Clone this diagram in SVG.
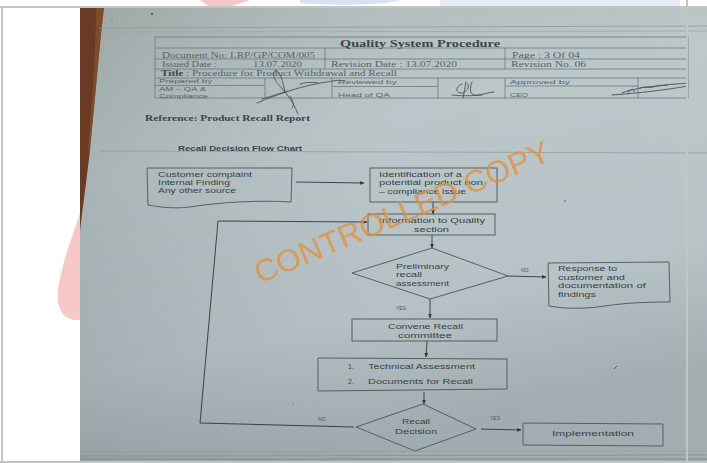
<svg xmlns="http://www.w3.org/2000/svg" width="707" height="463" viewBox="0 0 707 463">
<defs>
<linearGradient id="paper" x1="0" y1="0" x2="0.3" y2="1">
<stop offset="0" stop-color="#aab6b3"/>
<stop offset="0.35" stop-color="#b7c3c6"/>
<stop offset="0.75" stop-color="#b2bec2"/>
<stop offset="1" stop-color="#9ba7ab"/>
</linearGradient>
<linearGradient id="shade" x1="0" y1="0" x2="1" y2="0">
<stop offset="0" stop-color="#000" stop-opacity="0.08"/>
<stop offset="0.5" stop-color="#fff" stop-opacity="0.05"/>
<stop offset="1" stop-color="#fff" stop-opacity="0.08"/>
</linearGradient>
<marker id="arr" viewBox="0 0 10 10" refX="9" refY="5" markerWidth="5" markerHeight="5" orient="auto">
<path d="M0,1 L10,5 L0,9 Z" fill="#2f3538"/>
</marker>
<style>
.tb{fill:none;stroke:#6d7a7e;stroke-width:0.8}
.st{font-family:"Liberation Serif",serif;font-size:8px;fill:#56626a}
.sb{font-family:"Liberation Serif",serif;font-weight:bold;fill:#3c4549}
.ss{font-family:"Liberation Sans",sans-serif;font-size:6px;fill:#56626a}
.ft{font-family:"Liberation Sans",sans-serif;font-size:7px;fill:#3a4245}
.lb{font-family:"Liberation Sans",sans-serif;font-size:5px;fill:#4a5458}
.sh{fill:none;stroke:#4c5558;stroke-width:0.9}
.cn{fill:none;stroke:#2f3538;stroke-width:0.9}
.sig{fill:none;stroke:#4a5358;stroke-width:0.9;stroke-linecap:round}
</style>
</defs>
<rect width="707" height="463" fill="#ffffff"/>
<!-- faint logo fragments above frame -->
<path d="M200,0 L250,0 L232,6 L208,6 Z" fill="#f4c8c8"/>
<path d="M300,0 L400,0 C390,5 330,6 300,3 Z" fill="#d8e2f0"/>
<path d="M440,0 L680,0 L680,6 L440,6 Z" fill="#e6ecf6"/>
<!-- pink shape at left -->
<path d="M80,213 C72,238 62,262 58,290 C56,308 62,318 74,320 L80,320 Z" fill="#f6c8c8"/>
<!-- photo -->
<rect x="80" y="8" width="627" height="455" fill="url(#paper)"/>
<rect x="80" y="8" width="627" height="455" fill="url(#shade)"/>
<path d="M80,8 L104,8 C100,40 96,90 90,150 C86,185 83,205 80,232 Z" fill="#6a3a22"/>
<path d="M96,8 L104,8 C100,40 96,90 90,150 L88,150 C93,90 96,40 96,8 Z" fill="#8a5636" opacity="0.6"/>
<!-- header lines -->
<line x1="100" y1="28" x2="707" y2="26" stroke="#8d999c" stroke-width="0.8"/>
<line x1="100" y1="32" x2="707" y2="31" stroke="#99a5a8" stroke-width="0.7"/>
<circle cx="152" cy="14" r="0.9" fill="#333"/>
<circle cx="112" cy="19" r="0.7" fill="#666"/>
<!-- table -->
<g id="header-table">
<rect class="tb" x="155" y="37" width="533" height="61"/>
<line class="tb" x1="155" y1="48" x2="688" y2="48"/>
<line class="tb" x1="155" y1="59" x2="688" y2="59"/>
<line class="tb" x1="155" y1="69" x2="688" y2="69"/>
<line class="tb" x1="155" y1="78" x2="688" y2="78"/>
<line class="tb" x1="325" y1="48" x2="325" y2="69"/>
<line class="tb" x1="505" y1="48" x2="505" y2="69"/>
<line class="tb" x1="265" y1="78" x2="265" y2="98"/>
<line class="tb" x1="332" y1="78" x2="332" y2="98"/>
<line class="tb" x1="438" y1="78" x2="438" y2="98"/>
<line class="tb" x1="505" y1="78" x2="505" y2="98"/>
<line class="tb" x1="638" y1="78" x2="638" y2="98"/>
<line class="tb" x1="155" y1="85.5" x2="265" y2="85.5"/>
<line class="tb" x1="332" y1="86.5" x2="438" y2="86.5"/>
<line class="tb" x1="505" y1="86" x2="638" y2="86"/>
<text class="sb" x="340" y="46.5" font-size="10.5" textLength="160" lengthAdjust="spacingAndGlyphs">Quality System Procedure</text>
<text class="st" x="162" y="57.5" textLength="153" lengthAdjust="spacingAndGlyphs">Document No: LRP/GP/COM/005</text>
<text class="st" x="512" y="57.5" textLength="68" lengthAdjust="spacingAndGlyphs">Page : 3   Of  04</text>
<text class="st" x="162" y="67" textLength="55" lengthAdjust="spacingAndGlyphs">Issued Date :</text>
<text class="st" x="253" y="67" textLength="49" lengthAdjust="spacingAndGlyphs">13.07.2020</text>
<text class="st" x="331" y="67" textLength="126" lengthAdjust="spacingAndGlyphs">Revision Date :  13.07.2020</text>
<text class="st" x="511" y="67" textLength="75" lengthAdjust="spacingAndGlyphs">Revision No. 06</text>
<text class="st" x="161" y="76" textLength="236" lengthAdjust="spacingAndGlyphs"><tspan font-weight="bold" fill="#3c4549">Title</tspan> : Procedure for Product Withdrawal and Recall</text>
<text class="ss" x="159" y="83.4" textLength="53" lengthAdjust="spacingAndGlyphs">Prepared by</text>
<text class="ss" x="159" y="90.5" textLength="47" lengthAdjust="spacingAndGlyphs">AM – QA &amp;</text>
<text class="ss" x="159" y="97.6" textLength="49" lengthAdjust="spacingAndGlyphs">Compliance</text>
<text class="ss" x="338" y="84.3" textLength="59" lengthAdjust="spacingAndGlyphs">Reviewed by</text>
<text class="ss" x="338" y="96.5" textLength="52" lengthAdjust="spacingAndGlyphs">Head of QA</text>
<text class="ss" x="510" y="84" textLength="60" lengthAdjust="spacingAndGlyphs">Approved by</text>
<text class="ss" x="510" y="96.5" textLength="18" lengthAdjust="spacingAndGlyphs">CEO</text>
<!-- signatures -->
<path class="sig" d="M275,71 C270,76 278,84 285,92 C290,98 295,106 298,114 M285,92 C283,84 282,76 278,72 C276,70 274,70 275,71 M257,103 C268,98 280,94 292,90 C305,86 318,83 333,81 C338,80 342,80 345,81 M262,99 C272,96 282,93 287,91 M300,84 C306,82 312,82 318,83 M290,96 C293,102 295,104 292,108"/>
<path class="sig" d="M462,84 C456,86 455,92 460,93 C465,94 470,88 468,84 M466,82 L463,98 M472,82 C470,88 469,93 474,95 C480,96 488,92 494,92 M452,95 C460,96 470,96 482,95"/>
<path class="sig" d="M622,93 C628,90 632,90 636,89 C645,86 655,87 665,85 C672,84 680,84 688,83 M628,93 C630,88 636,89 634,92 M640,88 C646,86 650,89 656,86 C660,85 664,86 668,85 M612,95 C640,93 665,90 688,86"/>
</g>
<!-- reference & chart title -->
<text class="sb" x="145" y="121" font-size="9" textLength="165" lengthAdjust="spacingAndGlyphs">Reference:  Product Recall Report</text>
<line x1="100" y1="151" x2="707" y2="153" stroke="#8e9a9e" stroke-width="0.7"/>
<text x="178" y="151" font-family="'Liberation Sans',sans-serif" font-size="7" font-weight="bold" fill="#3c4549" textLength="124" lengthAdjust="spacingAndGlyphs">Recall Decision Flow Chart</text>
<circle cx="565" cy="201" r="0.8" fill="#555"/>
<path d="M614,369 L617,366" stroke="#444" stroke-width="0.8"/>
<circle cx="293" cy="404" r="0.6" fill="#666"/>
<!-- connectors -->
<g id="connectors">
<line class="cn" x1="296" y1="182" x2="364" y2="183" marker-end="url(#arr)"/>
<line class="cn" x1="433" y1="202" x2="433" y2="214" marker-end="url(#arr)"/>
<line class="cn" x1="432" y1="235" x2="432" y2="248" marker-end="url(#arr)"/>
<line class="cn" x1="508" y1="276" x2="546" y2="277" marker-end="url(#arr)"/>
<line class="cn" x1="430" y1="299" x2="430" y2="318" marker-end="url(#arr)"/>
<line class="cn" x1="427" y1="341" x2="426" y2="357" marker-end="url(#arr)"/>
<line class="cn" x1="424" y1="392" x2="424" y2="404" marker-end="url(#arr)"/>
<line class="cn" x1="481" y1="429" x2="521" y2="430" marker-end="url(#arr)"/>
<polyline class="cn" points="354,427 200,423 218,221 367,222" marker-end="url(#arr)"/>
<text class="lb" x="521" y="272">NO</text>
<text class="lb" x="396" y="310">YES</text>
<text class="lb" x="318" y="421">NO</text>
<text class="lb" x="490" y="420">YES</text>
</g>
<!-- nodes -->
<g id="sources">
<path class="sh" d="M147,168 L292,168 L291,202 C262,200 220,202 190,207 C172,209 160,207 148,205 Z"/>
<text class="ft" x="158" y="176.5" textLength="94" lengthAdjust="spacingAndGlyphs">Customer complaint</text>
<text class="ft" x="158" y="184.5" textLength="72" lengthAdjust="spacingAndGlyphs">Internal Finding</text>
<text class="ft" x="158" y="192.5" textLength="78" lengthAdjust="spacingAndGlyphs">Any other source</text>
</g>
<g id="identification">
<rect class="sh" x="370" y="168" width="127" height="34"/>
<text class="ft" x="379" y="176.5" textLength="83" lengthAdjust="spacingAndGlyphs">Identification of a</text>
<text class="ft" x="379" y="185" textLength="104" lengthAdjust="spacingAndGlyphs">potential product non</text>
<text class="ft" x="379" y="193.5" textLength="87" lengthAdjust="spacingAndGlyphs">– compliance issue</text>
</g>
<g id="information">
<rect class="sh" x="368" y="214" width="127" height="21"/>
<text class="ft" x="379" y="223.3" textLength="106" lengthAdjust="spacingAndGlyphs">Information to Quality</text>
<text class="ft" x="414" y="231.8" textLength="35" lengthAdjust="spacingAndGlyphs">section</text>
</g>
<g id="preliminary">
<polygon class="sh" points="432,248 508,276 430,299 352,273"/>
<text class="ft" x="396" y="268.5" textLength="53" lengthAdjust="spacingAndGlyphs">Preliminary</text>
<text class="ft" x="396" y="276.7" textLength="26" lengthAdjust="spacingAndGlyphs">recall</text>
<text class="ft" x="396" y="285.5" textLength="53" lengthAdjust="spacingAndGlyphs">assessment</text>
</g>
<g id="response">
<path class="sh" d="M548,263 L669,262 L670,302 C645,302 625,303 605,306 C585,309 565,309 549,306 Z"/>
<text class="ft" x="558" y="271.3" textLength="59" lengthAdjust="spacingAndGlyphs">Response to</text>
<text class="ft" x="558" y="279.7" textLength="67" lengthAdjust="spacingAndGlyphs">customer and</text>
<text class="ft" x="558" y="288.3" textLength="88" lengthAdjust="spacingAndGlyphs">documentation of</text>
<text class="ft" x="558" y="296.7" textLength="38" lengthAdjust="spacingAndGlyphs">findings</text>
</g>
<g id="convene">
<rect class="sh" x="352" y="319" width="145" height="22"/>
<text class="ft" x="388" y="328.5" textLength="75" lengthAdjust="spacingAndGlyphs">Convene Recall</text>
<text class="ft" x="398" y="337.5" textLength="54" lengthAdjust="spacingAndGlyphs">committee</text>
</g>
<g id="assessment">
<path class="sh" d="M318,358 L507,359 L507,389 L318,391 Z"/>
<text class="ft" x="348" y="368.5">1.</text>
<text class="ft" x="368" y="368.5" textLength="107" lengthAdjust="spacingAndGlyphs">Technical Assessment</text>
<text class="ft" x="348" y="383.5">2.</text>
<text class="ft" x="368" y="383.5" textLength="105" lengthAdjust="spacingAndGlyphs">Documents for Recall</text>
</g>
<g id="decision">
<polygon class="sh" points="423,404 476,429 415,451 356,427"/>
<text class="ft" x="402" y="423.5" textLength="28" lengthAdjust="spacingAndGlyphs">Recall</text>
<text class="ft" x="395" y="433.5" textLength="42" lengthAdjust="spacingAndGlyphs">Decision</text>
</g>
<g id="implementation">
<path class="sh" d="M523,423 L663,424 L663,446 L523,445 Z"/>
<text class="ft" x="552" y="435.5" font-size="7.8" textLength="82" lengthAdjust="spacingAndGlyphs">Implementation</text>
</g>
<!-- watermark -->
<text x="260" y="284" transform="rotate(-23 260 284)" font-family="'Liberation Sans',sans-serif" font-size="31" textLength="318" lengthAdjust="spacingAndGlyphs" fill="#e2913f" fill-opacity="0.8">CONTROLLED COPY</text>
<!-- bottom page edges -->
<line x1="80" y1="452" x2="707" y2="451" stroke="#8c989c" stroke-width="0.6"/>
<line x1="80" y1="456" x2="707" y2="455" stroke="#7e8a8e" stroke-width="0.6"/>
<line x1="80" y1="459" x2="707" y2="459" stroke="#7a8589" stroke-width="0.8"/>
<!-- frame -->
<g fill="none" stroke="#c4c4c4" stroke-width="2">
<line x1="0" y1="7" x2="707" y2="7"/>
<line x1="2" y1="7" x2="2" y2="463"/>
<line x1="687" y1="0" x2="687" y2="463"/>
<line x1="0" y1="462" x2="707" y2="462"/>
</g>
</svg>
